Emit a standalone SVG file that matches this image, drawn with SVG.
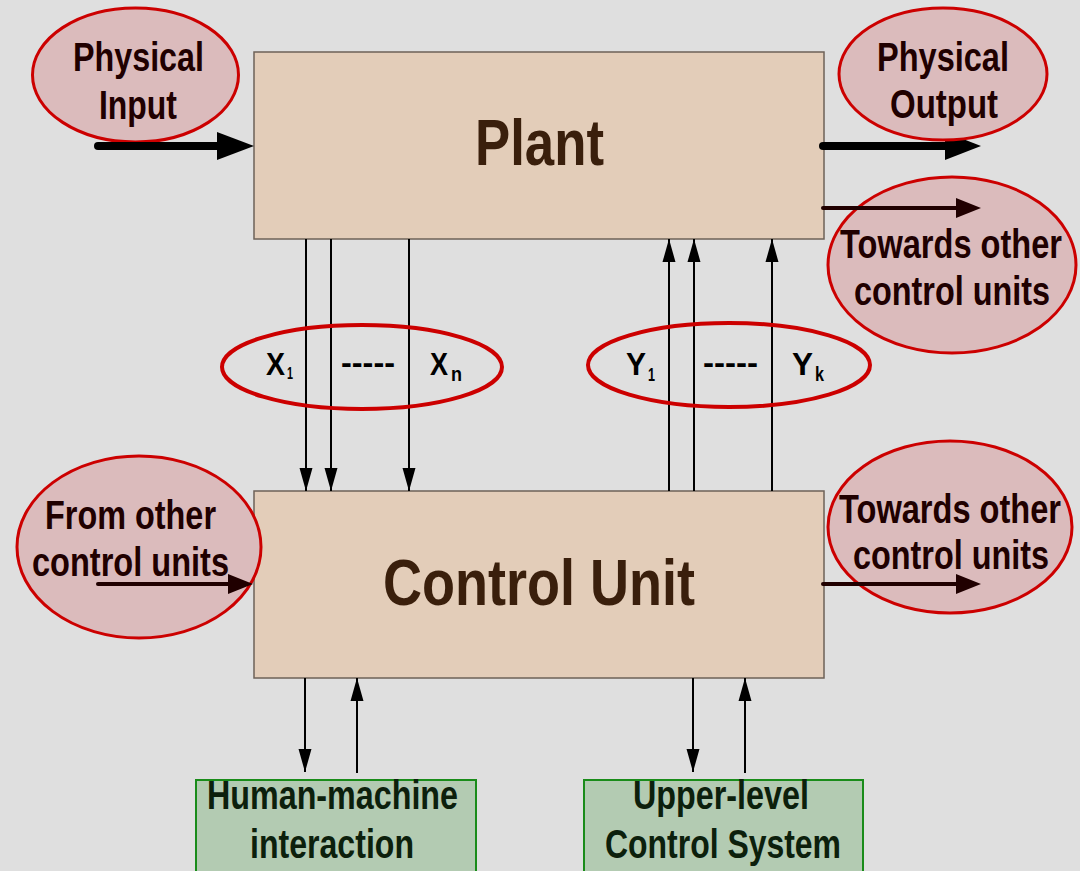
<svg xmlns="http://www.w3.org/2000/svg" width="1080" height="871" viewBox="0 0 1080 871">
<style>
.t{font-family:"Liberation Sans",Arial,sans-serif;font-weight:bold;fill:#200000;text-anchor:middle}
.big{font-size:65px;fill:#3a1f0c}
.e{font-size:40px}
.g{font-size:40px;fill:#0c200c}
.lab{font-family:"Liberation Sans",Arial,sans-serif;font-weight:bold;fill:#000}
.box{fill:#e3cdb9;stroke:#6e6258;stroke-width:1.5}
.ell{fill:#dbbbbc;stroke:#cc0000;stroke-width:3}
.ring{fill:none;stroke:#cc0000;stroke-width:4}
.gbox{fill:#b3cbb2;stroke:#1a8c1a;stroke-width:2}
.thin{stroke:#000;stroke-width:2;fill:none;marker-end:url(#ah)}
</style>
<defs>
<marker id="ah" viewBox="0 -7 23 14" refX="23" refY="0" markerWidth="23" markerHeight="14" markerUnits="userSpaceOnUse" orient="auto">
<path d="M0,-6.5 L23,0 L0,6.5 z" fill="#000"/>
</marker>
</defs>
<rect width="1080" height="871" fill="#dfdfdf"/>

<g id="plant">
<rect class="box" x="254" y="52" width="570" height="187"/>
<text class="t big" x="539.5" y="165" textLength="129" lengthAdjust="spacingAndGlyphs">Plant</text>
</g>
<g id="control-unit">
<rect class="box" x="254" y="491" width="570" height="187"/>
<text class="t big" x="539" y="605" textLength="312" lengthAdjust="spacingAndGlyphs">Control Unit</text>
</g>
<g id="hmi">
<rect class="gbox" x="196" y="780" width="280" height="100"/>
<text class="t g" x="332.5" y="809" textLength="251" lengthAdjust="spacingAndGlyphs">Human-machine</text>
<text class="t g" x="332" y="858" textLength="164" lengthAdjust="spacingAndGlyphs">interaction</text>
</g>
<g id="upper-level">
<rect class="gbox" x="584" y="780" width="279" height="100"/>
<text class="t g" x="721" y="809" textLength="176" lengthAdjust="spacingAndGlyphs">Upper-level</text>
<text class="t g" x="723" y="858" textLength="236" lengthAdjust="spacingAndGlyphs">Control System</text>
</g>

<g id="physical-input-ell"><ellipse class="ell" cx="135.5" cy="75" rx="103" ry="67"/></g>
<g id="from-other-ell"><ellipse class="ell" cx="139" cy="547" rx="122" ry="91"/></g>
<g id="towards-top-ell"><ellipse class="ell" cx="952" cy="265" rx="124" ry="88"/></g>
<g id="towards-bottom-ell"><ellipse class="ell" cx="950" cy="527" rx="122" ry="86"/></g>

<g id="connectors">
<line class="thin" x1="306" y1="239" x2="306" y2="491"/>
<line class="thin" x1="331" y1="239" x2="331" y2="491"/>
<line class="thin" x1="409" y1="239" x2="409" y2="491"/>
<line class="thin" x1="669" y1="491" x2="669" y2="239"/>
<line class="thin" x1="694" y1="491" x2="694" y2="239"/>
<line class="thin" x1="772" y1="491" x2="772" y2="239"/>
<line class="thin" x1="305" y1="678" x2="305" y2="772"/>
<line class="thin" x1="357" y1="773" x2="357" y2="678"/>
<line class="thin" x1="693" y1="678" x2="693" y2="772"/>
<line class="thin" x1="745" y1="773" x2="745" y2="678"/>
<line x1="98" y1="146" x2="220" y2="146" stroke="#000" stroke-width="8" stroke-linecap="round"/>
<polygon points="217,132 254,146 217,160" fill="#000"/>
<line x1="823" y1="146" x2="948" y2="146" stroke="#000" stroke-width="8" stroke-linecap="round"/>
<polygon points="945,132 981,146 945,160" fill="#000"/>
<line x1="823" y1="208" x2="958" y2="208" stroke="#200000" stroke-width="4" stroke-linecap="round"/>
<polygon points="956,198 981,208 956,218" fill="#200000"/>
<line x1="823" y1="584" x2="958" y2="584" stroke="#200000" stroke-width="4" stroke-linecap="round"/>
<polygon points="956,574 981,584 956,594" fill="#200000"/>
<line x1="98" y1="584" x2="230" y2="584" stroke="#200000" stroke-width="4" stroke-linecap="round"/>
<polygon points="228,574 253,584 228,594" fill="#200000"/>
</g>

<g id="physical-output-ell"><ellipse class="ell" cx="943" cy="74" rx="104" ry="66"/></g>

<g id="x-group">
<ellipse class="ring" cx="362" cy="367" rx="140" ry="42"/>
<text class="lab" x="266" y="375" font-size="32" textLength="19" lengthAdjust="spacingAndGlyphs">X</text>
<text class="lab" x="287" y="379" font-size="17" textLength="6" lengthAdjust="spacingAndGlyphs">1</text>
<text class="lab" x="341" y="373" font-size="32" textLength="54" lengthAdjust="spacingAndGlyphs">-----</text>
<text class="lab" x="430" y="375" font-size="32" textLength="18" lengthAdjust="spacingAndGlyphs">X</text>
<text class="lab" x="451" y="381" font-size="20" textLength="11" lengthAdjust="spacingAndGlyphs">n</text>
</g>
<g id="y-group">
<ellipse class="ring" cx="729" cy="365" rx="141" ry="42"/>
<text class="lab" x="626" y="375" font-size="32" textLength="20" lengthAdjust="spacingAndGlyphs">Y</text>
<text class="lab" x="648" y="381" font-size="18" textLength="7" lengthAdjust="spacingAndGlyphs">1</text>
<text class="lab" x="703" y="373" font-size="32" textLength="55" lengthAdjust="spacingAndGlyphs">-----</text>
<text class="lab" x="792" y="375" font-size="32" textLength="21" lengthAdjust="spacingAndGlyphs">Y</text>
<text class="lab" x="815" y="381" font-size="21" textLength="9" lengthAdjust="spacingAndGlyphs">k</text>
</g>

<g id="labels">
<text class="t e" x="138.5" y="71" textLength="131" lengthAdjust="spacingAndGlyphs">Physical</text>
<text class="t e" x="138" y="119" textLength="78" lengthAdjust="spacingAndGlyphs">Input</text>
<text class="t e" x="943" y="71" textLength="132" lengthAdjust="spacingAndGlyphs">Physical</text>
<text class="t e" x="944" y="118" textLength="108" lengthAdjust="spacingAndGlyphs">Output</text>
<text class="t e" x="951" y="258" textLength="222" lengthAdjust="spacingAndGlyphs">Towards other</text>
<text class="t e" x="952" y="305" textLength="196" lengthAdjust="spacingAndGlyphs">control units</text>
<text class="t e" x="950" y="523" textLength="222" lengthAdjust="spacingAndGlyphs">Towards other</text>
<text class="t e" x="951" y="569" textLength="196" lengthAdjust="spacingAndGlyphs">control units</text>
<text class="t e" x="130.5" y="529" textLength="171" lengthAdjust="spacingAndGlyphs">From other</text>
<text class="t e" x="130.5" y="576" textLength="197" lengthAdjust="spacingAndGlyphs">control units</text>
</g>
</svg>
